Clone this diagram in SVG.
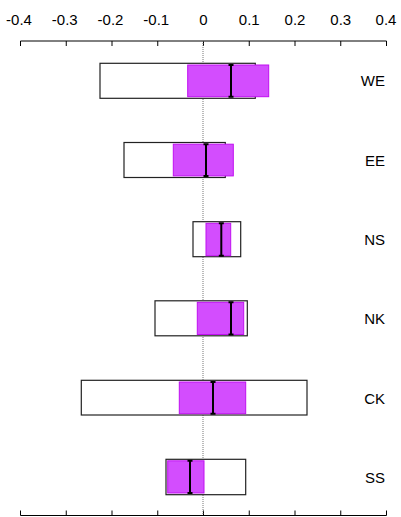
<svg xmlns="http://www.w3.org/2000/svg" width="401" height="517" viewBox="0 0 401 517">
<style>
.tl{font-family:"Liberation Sans",Arial,sans-serif;font-size:15px;fill:#000;text-anchor:middle}
.lb{font-family:"Liberation Sans",Arial,sans-serif;font-size:15px;fill:#000;text-anchor:end}
.ax{stroke:#000;stroke-width:1;fill:none}
.wb{fill:#fff;stroke:#222;stroke-width:1.2}
.pb{fill:#d34dfe;stroke:#c010f0;stroke-width:1}
.eb{stroke:#000;stroke-width:2;fill:none}
</style>
<rect width="401" height="517" fill="#fff"/>
<g id="axes">
<line class="ax" x1="20.5" y1="41" x2="386.5" y2="41"/>
<path class="ax" d="M20.5 41v5M66.25 41v5M112 41v5M157.75 41v5M203.5 41v5M249.25 41v5M295 41v5M340.75 41v5M386.5 41v5"/>
<line class="ax" x1="20.5" y1="515.5" x2="386.5" y2="515.5"/>
<path class="ax" d="M20.5 515.5v-5M66.25 515.5v-5M112 515.5v-5M157.75 515.5v-5M203.5 515.5v-5M249.25 515.5v-5M295 515.5v-5M340.75 515.5v-5M386.5 515.5v-5"/>
<line x1="203" y1="41" x2="203" y2="515" stroke="#777" stroke-width="1" stroke-dasharray="1,1"/>
<text class="tl" x="19" y="25">-0.4</text>
<text class="tl" x="64.75" y="25">-0.3</text>
<text class="tl" x="110.5" y="25">-0.2</text>
<text class="tl" x="156.25" y="25">-0.1</text>
<text class="tl" x="203.5" y="25">0</text>
<text class="tl" x="249.25" y="25">0.1</text>
<text class="tl" x="295" y="25">0.2</text>
<text class="tl" x="340.75" y="25">0.3</text>
<text class="tl" x="386" y="25">0.4</text>
</g>
<g id="WE">
<rect class="wb" x="100" y="63.3" width="155.3" height="35"/>
<rect class="pb" x="187.7" y="65" width="81" height="31.7"/>
<path class="eb" d="M231 65v31.7M228.5 65h5M228.5 96.7h5"/>
<text class="lb" x="385" y="86">WE</text>
</g>
<g id="EE">
<rect class="wb" x="124" y="142.5" width="101.3" height="35"/>
<rect class="pb" x="173.3" y="144.2" width="60" height="31.7"/>
<path class="eb" d="M206 144.2v31.7M203.5 144.2h5M203.5 175.9h5"/>
<text class="lb" x="385" y="165.5">EE</text>
</g>
<g id="NS">
<rect class="wb" x="193" y="221.7" width="47.7" height="35"/>
<rect class="pb" x="206" y="223.3" width="24.7" height="32.4"/>
<path class="eb" d="M221.3 223.3v32.4M218.8 223.3h5M218.8 255.7h5"/>
<text class="lb" x="385" y="244.5">NS</text>
</g>
<g id="NK">
<rect class="wb" x="155" y="300.8" width="92.3" height="35"/>
<rect class="pb" x="197.3" y="302.3" width="46.4" height="32.2"/>
<path class="eb" d="M231 302.3v32.2M228.5 302.3h5M228.5 334.5h5"/>
<text class="lb" x="385" y="323.5">NK</text>
</g>
<g id="CK">
<rect class="wb" x="81.3" y="380.3" width="225.7" height="34.7"/>
<rect class="pb" x="179.3" y="382" width="66.4" height="31.7"/>
<path class="eb" d="M213 382v31.7M210.5 382h5M210.5 413.7h5"/>
<text class="lb" x="385" y="403.5">CK</text>
</g>
<g id="SS">
<rect class="wb" x="166" y="459.3" width="79.7" height="35.4"/>
<rect class="pb" x="167.7" y="460.8" width="36.3" height="32.2"/>
<path class="eb" d="M190 460.8v32.2M187.5 460.8h5M187.5 493h5"/>
<text class="lb" x="385" y="482.5">SS</text>
</g>
</svg>
